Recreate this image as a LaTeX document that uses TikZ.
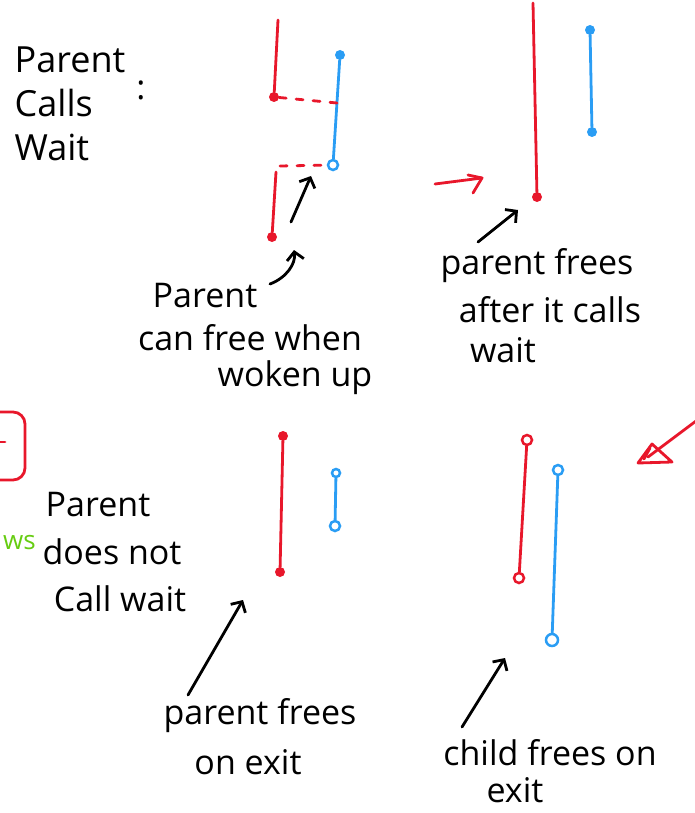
\documentclass[tikz,border=0pt]{standalone}
\usepackage{fontspec}
\setmainfont{Open Sans}
\usetikzlibrary{arrows.meta}
\definecolor{penred}{HTML}{E8172B}
\definecolor{penblue}{HTML}{2A9DF4}
\definecolor{pengreen}{HTML}{66CC11}
\begin{document}
\begin{tikzpicture}[x=1pt,y=-1pt,
  hand/.style={line width=2.8pt,line cap=round,line join=round},
  redpen/.style={hand,draw=penred},
  bluepen/.style={hand,draw=penblue},
  inkpen/.style={hand,draw=black},
  reddash/.style={redpen,dash pattern=on 7pt off 10pt},
  rdot/.style={circle,fill=penred,inner sep=0pt,minimum size=10pt},
  bdot/.style={circle,fill=penblue,inner sep=0pt,minimum size=10pt},
  rring/.style={circle,draw=penred,line width=2.5pt,inner sep=0pt,minimum size=10pt},
  bring/.style={circle,draw=penblue,line width=2.5pt,inner sep=0pt,minimum size=10pt},
  inkarrow/.style={inkpen,-{Straight Barb[length=8pt,width=17pt,line width=2.8pt]}},
  lbl/.style={font=\fontsize{34}{40}\selectfont,inner sep=0pt},
]
\useasboundingbox (0,0) rectangle (694,813);

% ---- parent calls wait: woken up case ----
\node[lbl,align=left,font=\fontsize{36}{44}\selectfont] (t1) at (70,104) {Parent\\Calls\\Wait};
\node[lbl] (colon) at (141,90) {:};

\coordinate (p1top) at (278,20);
\node[rdot] (p1a) at (274,97) {};
\draw[redpen] (p1top) -- (p1a);
\node[bdot] (p1c) at (340,55) {};
\node[bring] (p1d) at (333,165) {};
\draw[bluepen] (p1c) -- (p1d);
\coordinate (p1m) at (337,103);
\draw[reddash] (p1a) -- (p1m);
\coordinate (p1f) at (276,172);
\coordinate (p1g) at (280,166);
\node[rdot] (p1e) at (272,237) {};
\draw[redpen] (p1f) -- (p1e);
\draw[reddash] (p1g) -- (p1d);
\coordinate (a1s) at (291,222);
\coordinate (a1e) at (311,176);
\draw[inkarrow] (a1s) -- (a1e);

\node[lbl] (t2a) at (205,296) {Parent};
\node[lbl] (t2b) at (250,338) {can free when};
\node[lbl] (t2c) at (295,378) {woken up};
\coordinate (c1s) at (270,284);
\coordinate (c1e) at (294,250);
\draw[inkarrow] (c1s) .. controls (286,278) and (296,264) .. (c1e);

% ---- parent calls wait: frees afterwards ----
\coordinate (r2s) at (435,184);
\coordinate (r2e) at (482,178);
\draw[redpen] (r2s) -- (r2e);
\draw[redpen] (468,175) -- (r2e) -- (473,193);

\coordinate (p2top) at (533,3);
\node[rdot] (p2a) at (537,197) {};
\draw[redpen] (p2top) -- (p2a);
\node[bdot] (p2b) at (590,30) {};
\node[bdot] (p2c) at (592,132) {};
\draw[bluepen] (p2b) -- (p2c);
\coordinate (a2s) at (478,242);
\coordinate (a2e) at (518,210);
\draw[inkarrow] (a2s) -- (a2e);

\node[lbl] (t3a) at (537,266) {parent frees};
\node[lbl] (t3b) at (550,310) {after it calls};
\node[lbl] (t3c) at (503,350) {wait};

% ---- side marks ----
\draw[redpen,rounded corners=12pt] (-30,412) rectangle (25,480);
\draw[redpen] (-4,442) -- (5,442);
\node[lbl,anchor=east,text=pengreen,font=\fontsize{26}{30}\selectfont] (gws) at (36,543) {ws};

% ---- parent does not call wait ----
\node[lbl] (t4a) at (98,505) {Parent};
\node[lbl] (t4b) at (112,552) {does not};
\node[lbl] (t4c) at (120,599) {Call wait};

\node[rdot] (p3a) at (283,436) {};
\node[rdot] (p3b) at (280,572) {};
\draw[redpen] (p3a) -- (p3b);
\node[bring,minimum size=8pt] (p3c) at (336,473) {};
\node[bring] (p3d) at (335,526) {};
\draw[bluepen] (p3c) -- (p3d);
\coordinate (a3s) at (188,695);
\coordinate (a3e) at (243,600);
\draw[inkarrow] (a3s) -- (a3e);

\node[lbl] (t5a) at (260,716) {parent frees};
\node[lbl] (t5b) at (248,762) {on exit};

% ---- child frees on exit ----
\node[rring] (p4a) at (527,440) {};
\node[rring] (p4b) at (519,578) {};
\draw[redpen] (p4a) -- (p4b);
\node[bring] (p4c) at (558,470) {};
\node[bring,minimum size=12pt] (p4d) at (552,640) {};
\draw[bluepen] (p4c) -- (p4d);
\coordinate (a4s) at (462,727);
\coordinate (a4e) at (505,658);
\draw[inkarrow] (a4s) -- (a4e);

\node[lbl] (t6a) at (550,753) {child frees on};
\node[lbl] (t6b) at (515,790) {exit};

\coordinate (r4s) at (700,418);
\coordinate (r4e) at (648,457);
\draw[redpen] (r4s) -- (r4e);
\draw[redpen] (638,463) -- (652,444) -- (672,462) -- cycle;
\draw[redpen] (644,459) -- (650,448);
\end{tikzpicture}
\end{document}
